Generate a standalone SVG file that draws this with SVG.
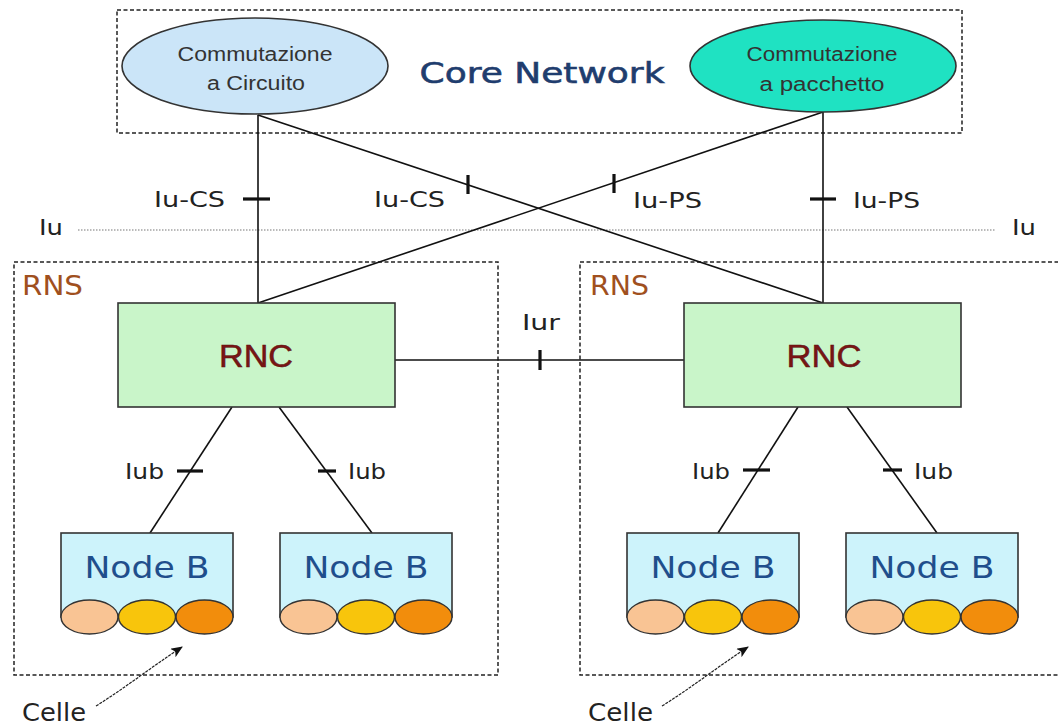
<svg xmlns="http://www.w3.org/2000/svg" width="1058" height="727" viewBox="0 0 1058 727">
<defs>
<style>
.dash{fill:none;stroke:#222;stroke-width:1.5;stroke-dasharray:4 2.5}
.line{fill:none;stroke:#111;stroke-width:1.6}
.tick{fill:none;stroke:#111;stroke-width:3.2}
.lbl{font-family:"DejaVu Sans",Verdana,sans-serif;font-size:22px;fill:#222}
.ell{font-family:"Liberation Sans",Arial,sans-serif;font-size:20px;fill:#333;text-anchor:middle}
.rnc{fill:#c9f5c9;stroke:#333;stroke-width:1.6}
.rnct{font-family:"Liberation Sans",Arial,sans-serif;font-size:31px;fill:#7a1414;stroke:#5a1010;stroke-width:0.5;text-anchor:middle}
.nb{fill:#cdf3fb;stroke:#333;stroke-width:1.6}
.nbt{font-family:"DejaVu Sans",Verdana,sans-serif;font-size:31px;fill:#1f4e8c;text-anchor:middle}
.c1{fill:#f9c494;stroke:#333;stroke-width:1.4}
.c2{fill:#f8c50c;stroke:#333;stroke-width:1.4}
.c3{fill:#f28d0c;stroke:#333;stroke-width:1.4}
.rns{font-family:"DejaVu Sans",Verdana,sans-serif;font-size:26px;fill:#a0501e}
.celle{font-family:"DejaVu Sans",Verdana,sans-serif;font-size:24px;fill:#222}
</style>
<marker id="arr" markerWidth="12" markerHeight="10" refX="11" refY="5" orient="auto" markerUnits="userSpaceOnUse">
<path d="M0,0 L12,5 L0,10 L3,5 Z" fill="#111"/>
</marker>
</defs>
<rect width="1058" height="727" fill="#fff"/>

<g id="core-network">
<rect x="117" y="10" width="845" height="123" fill="#fffde3" class="dash"/>
<text x="542" y="83" font-family="DejaVu Sans, Verdana, sans-serif" font-size="28" fill="#1f3d6e" stroke="#1f3d6e" stroke-width="0.6" text-anchor="middle" textLength="245" lengthAdjust="spacingAndGlyphs">Core Network</text>
</g>

<g id="rns-left">
<rect x="14" y="262" width="484" height="413" class="dash"/>
<text x="22" y="295" class="rns" textLength="61" lengthAdjust="spacingAndGlyphs">RNS</text>
</g>
<g id="rns-right">
<rect x="580" y="262" width="484" height="413" class="dash"/>
<text x="590" y="295" class="rns" textLength="59" lengthAdjust="spacingAndGlyphs">RNS</text>
</g>

<g id="iu-boundary">
<line x1="78" y1="230" x2="995" y2="230" stroke="#777" stroke-width="1.2" stroke-dasharray="1.5 1.5"/>
<text x="39" y="235" class="lbl" textLength="24" lengthAdjust="spacingAndGlyphs">Iu</text>
<text x="1012" y="235" class="lbl" textLength="24" lengthAdjust="spacingAndGlyphs">Iu</text>
</g>

<g id="connectors">
<line x1="258" y1="115" x2="258" y2="303" class="line"/>
<line x1="823" y1="112" x2="823" y2="303" class="line"/>
<line x1="258" y1="115" x2="823" y2="303" class="line"/>
<line x1="823" y1="112" x2="258" y2="303" class="line"/>
<line x1="395" y1="360" x2="684" y2="360" class="line"/>
<line x1="232" y1="407" x2="150" y2="533" class="line"/>
<line x1="279" y1="407" x2="372" y2="533" class="line"/>
<line x1="798" y1="407" x2="718" y2="533" class="line"/>
<line x1="847" y1="407" x2="937" y2="533" class="line"/>
<line x1="243" y1="199" x2="270" y2="199" class="tick"/>
<line x1="468" y1="175" x2="468" y2="194" class="tick"/>
<line x1="614" y1="174" x2="614" y2="193" class="tick"/>
<line x1="810" y1="199" x2="836" y2="199" class="tick"/>
<line x1="540" y1="350" x2="540" y2="370" class="tick"/>
<line x1="177" y1="471" x2="203" y2="471" class="tick"/>
<line x1="318" y1="471" x2="336" y2="471" class="tick"/>
<line x1="743" y1="470" x2="770" y2="470" class="tick"/>
<line x1="883" y1="470" x2="902" y2="470" class="tick"/>
<text x="154" y="207" class="lbl" textLength="71" lengthAdjust="spacingAndGlyphs">Iu-CS</text>
<text x="374" y="207" class="lbl" textLength="71" lengthAdjust="spacingAndGlyphs">Iu-CS</text>
<text x="633" y="208" class="lbl" textLength="69" lengthAdjust="spacingAndGlyphs">Iu-PS</text>
<text x="853" y="208" class="lbl" textLength="67" lengthAdjust="spacingAndGlyphs">Iu-PS</text>
<text x="522" y="330" class="lbl" textLength="38" lengthAdjust="spacingAndGlyphs">Iur</text>
<text x="125" y="479" class="lbl" textLength="39" lengthAdjust="spacingAndGlyphs">Iub</text>
<text x="348" y="479" class="lbl" textLength="38" lengthAdjust="spacingAndGlyphs">Iub</text>
<text x="692" y="479" class="lbl" textLength="38" lengthAdjust="spacingAndGlyphs">Iub</text>
<text x="914" y="479" class="lbl" textLength="39" lengthAdjust="spacingAndGlyphs">Iub</text>
<path d="M96 706 C125 688 150 668 182 647" fill="none" stroke="#222" stroke-width="1.2" stroke-dasharray="3 1" marker-end="url(#arr)"/>
<path d="M662 706 C691 688 716 668 748 647" fill="none" stroke="#222" stroke-width="1.2" stroke-dasharray="3 1" marker-end="url(#arr)"/>
<text x="22" y="721" class="celle" textLength="64" lengthAdjust="spacingAndGlyphs">Celle</text>
<text x="588" y="721" class="celle" textLength="65" lengthAdjust="spacingAndGlyphs">Celle</text>
</g>

<g id="cs-domain">
<ellipse cx="255" cy="66" rx="133" ry="48" fill="#cbe5f8" stroke="#333" stroke-width="1.6"/>
<text x="255" y="61" class="ell" textLength="155" lengthAdjust="spacingAndGlyphs">Commutazione</text>
<text x="256" y="90" class="ell" textLength="98" lengthAdjust="spacingAndGlyphs">a Circuito</text>
</g>
<g id="ps-domain">
<ellipse cx="823" cy="66" rx="133" ry="46" fill="#1fe2c2" stroke="#333" stroke-width="1.6"/>
<text x="822" y="61" class="ell" textLength="151" lengthAdjust="spacingAndGlyphs">Commutazione</text>
<text x="822" y="91" class="ell" textLength="125" lengthAdjust="spacingAndGlyphs">a pacchetto</text>
</g>

<g id="rnc-left">
<rect x="118" y="303" width="277" height="104" class="rnc"/>
<text x="256" y="367" class="rnct" textLength="74" lengthAdjust="spacingAndGlyphs">RNC</text>
</g>
<g id="rnc-right">
<rect x="684" y="303" width="277" height="104" class="rnc"/>
<text x="824" y="367" class="rnct" textLength="75" lengthAdjust="spacingAndGlyphs">RNC</text>
</g>

<g id="nodeb-1">
<rect x="61" y="533" width="172" height="84" class="nb"/>
<text x="147" y="578" class="nbt" textLength="125" lengthAdjust="spacingAndGlyphs">Node B</text>
<ellipse cx="89.5" cy="617" rx="28.5" ry="17" class="c1"/>
<ellipse cx="147" cy="617" rx="28.5" ry="17" class="c2"/>
<ellipse cx="204.5" cy="617" rx="28.5" ry="17" class="c3"/>
</g>
<g id="nodeb-2">
<rect x="280" y="533" width="172" height="84" class="nb"/>
<text x="366" y="578" class="nbt" textLength="125" lengthAdjust="spacingAndGlyphs">Node B</text>
<ellipse cx="308.5" cy="617" rx="28.5" ry="17" class="c1"/>
<ellipse cx="366" cy="617" rx="28.5" ry="17" class="c2"/>
<ellipse cx="423.5" cy="617" rx="28.5" ry="17" class="c3"/>
</g>
<g id="nodeb-3">
<rect x="627" y="533" width="172" height="84" class="nb"/>
<text x="713" y="578" class="nbt" textLength="125" lengthAdjust="spacingAndGlyphs">Node B</text>
<ellipse cx="655.5" cy="617" rx="28.5" ry="17" class="c1"/>
<ellipse cx="713" cy="617" rx="28.5" ry="17" class="c2"/>
<ellipse cx="770.5" cy="617" rx="28.5" ry="17" class="c3"/>
</g>
<g id="nodeb-4">
<rect x="846" y="533" width="172" height="84" class="nb"/>
<text x="932" y="578" class="nbt" textLength="125" lengthAdjust="spacingAndGlyphs">Node B</text>
<ellipse cx="874.5" cy="617" rx="28.5" ry="17" class="c1"/>
<ellipse cx="932" cy="617" rx="28.5" ry="17" class="c2"/>
<ellipse cx="989.5" cy="617" rx="28.5" ry="17" class="c3"/>
</g>
</svg>
